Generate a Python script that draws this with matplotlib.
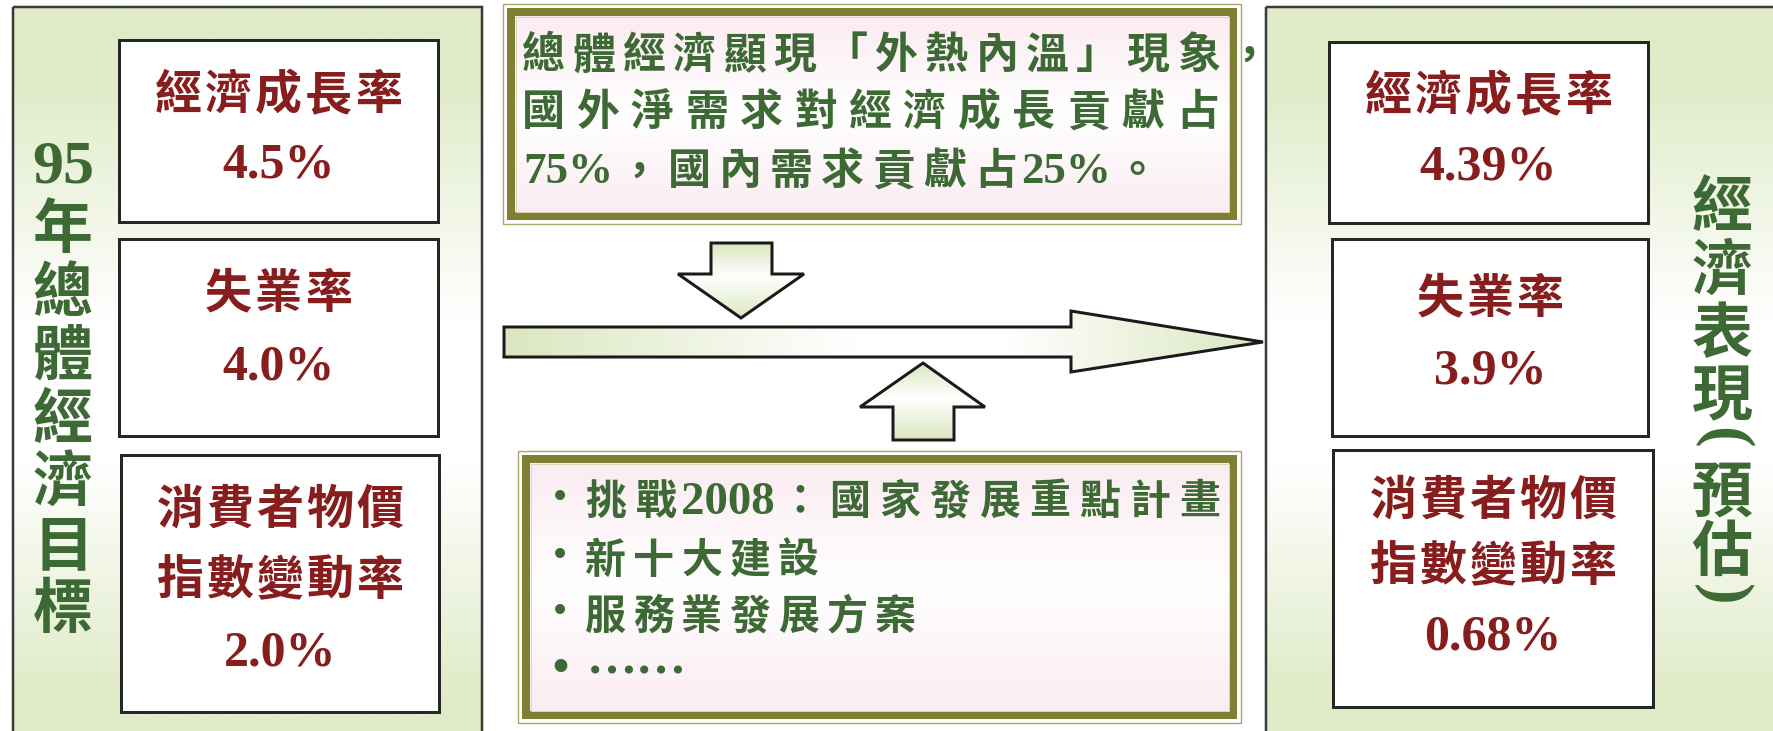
import re
import matplotlib
matplotlib.use('Agg')
import matplotlib.pyplot as plt
import numpy as np
from matplotlib.colors import LinearSegmentedColormap
from matplotlib.patches import Polygon, Rectangle

# ---- content ----
left_title = ['95', '年', '總', '體', '經', '濟', '目', '標']
right_title = ['經', '濟', '表', '現', '(', '預', '估', ')']
indicator_names = ['經濟成長率', '失業率', '消費者物價\n指數變動率']
target_values = ['4.5%', '4.0%', '2.0%']
forecast_values = ['4.39%', '3.9%', '0.68%']
summary_lines = ['總體經濟顯現「外熱內溫」現象，',
                 '國外淨需求對經濟成長貢獻占',
                 '75%，國內需求貢獻占25%。']
policy_items = ['挑戰2008：國家發展重點計畫', '新十大建設', '服務業發展方案', '……']

# ---- style ----
W, H = 1773, 731
CJK = 'Noto Sans CJK TC'
SERIF = 'Liberation Serif'
GREEN_TXT = '#3d6a34'
RED_TXT = '#871d1d'
PANEL_GREEN = '#e0ebc8'
ARROW_GREEN = '#dbe7c0'
PINK = '#fbecf2'
OLIVE = '#7f7f33'
EDGE = '#262626'


def px(v):
    # pixel size -> points at 100 dpi
    return v * 0.72


fig = plt.figure(figsize=(W / 100, H / 100), dpi=100)
ax = fig.add_axes([0, 0, 1, 1])
ax.set_xlim(0, W)
ax.set_ylim(H, 0)
ax.axis('off')
renderer = fig.canvas.get_renderer()


def gradient_shape(verts, stops, colors, horizontal=False, edgecolor=None,
                   lw=0.0, z=2):
    verts = np.asarray(verts, float)
    x0, x1 = verts[:, 0].min(), verts[:, 0].max()
    y0, y1 = verts[:, 1].min(), verts[:, 1].max()
    cmap = LinearSegmentedColormap.from_list('', list(zip(stops, colors)))
    ramp = np.linspace(0, 1, 256)
    arr = ramp[None, :] if horizontal else ramp[:, None]
    im = ax.imshow(arr, cmap=cmap, vmin=0, vmax=1, extent=(x0, x1, y1, y0),
                   origin='upper', aspect='auto', interpolation='bilinear',
                   zorder=z)
    clip = Polygon(verts, closed=True, transform=ax.transData,
                   fc='none', ec='none')
    im.set_clip_path(clip)
    if edgecolor is not None:
        ax.add_patch(Polygon(verts, closed=True, fc='none', ec=edgecolor,
                             lw=lw, zorder=z + 0.1, joinstyle='miter'))


def rect(x0, y0, x1, y1):
    return [(x0, y0), (x1, y0), (x1, y1), (x0, y1)]


TOKEN = re.compile(r'[0-9A-Za-z%.]+|.')


def spaced_text(s, x, y, pitch, cjk_px, latin_px, color, align='left', z=6):
    # y is the visual centre of the line
    items = []
    for tok in TOKEN.findall(s):
        if tok.isascii():
            t = ax.text(0, y + 0.338 * latin_px, tok, fontsize=px(latin_px),
                        family=SERIF, weight='bold', color=color,
                        ha='left', va='baseline', zorder=z)
            w = t.get_window_extent(renderer).width
            items.append((t, w, True))
        else:
            t = ax.text(0, y + 0.38 * cjk_px, tok, fontsize=px(cjk_px),
                        family=[CJK, 'DejaVu Sans'], weight='bold',
                        color=color, ha='center', va='baseline', zorder=z)
            items.append((t, pitch, False))
    total = sum(w for _, w, _ in items)
    if align == 'center':
        x = x - total / 2
    for t, w, latin in items:
        t.set_x(x if latin else x + w / 2)
        x += w


def vertical_title(tokens, x, ys, size):
    for tok, y in zip(tokens, ys):
        if tok in '()':
            # brackets turn sideways in vertical writing
            ax.text(x, y, tok, fontsize=px(size + 4), family=SERIF,
                    weight='bold', color=GREEN_TXT, rotation=-90,
                    ha='center', va='center', zorder=6)
        else:
            spaced_text(tok, x, y, 63, size, 62, GREEN_TXT, align='center')


# ---- side panels ----
for x0, x1 in [(13, 482), (1266, 1790)]:
    gradient_shape(rect(x0, 7, x1, 745),
                   [0, 0.1, 0.42, 0.62, 0.93, 1],
                   [PANEL_GREEN, PANEL_GREEN, 'white', 'white', PANEL_GREEN,
                    PANEL_GREEN],
                   edgecolor='#3a3a3a', lw=px(2.5), z=1)

vertical_title(left_title, 63, [162, 225, 289, 352, 415, 478, 542, 605], 60)
vertical_title(right_title, 1722, [203, 267, 330, 392, 438, 489, 548, 595], 61)

# ---- indicator boxes ----
left_boxes = [(119, 40, 438, 222), (119, 239, 438, 436), (121, 455, 439, 712)]
right_boxes = [(1329, 42, 1648, 223), (1332, 239, 1648, 436),
               (1333, 450, 1653, 707)]
left_label_y = [[91], [290], [506, 577]]
right_label_y = [[92], [295], [497, 563]]
left_value_base = [178, 380, 665]
right_value_base = [180, 383, 649]

for boxes, label_ys, bases, values in [
        (left_boxes, left_label_y, left_value_base, target_values),
        (right_boxes, right_label_y, right_value_base, forecast_values)]:
    for (x0, y0, x1, y1), name, ys, base, val in zip(boxes, indicator_names,
                                                       label_ys, bases, values):
        ax.add_patch(Rectangle((x0, y0), x1 - x0, y1 - y0, fc='white',
                               ec=EDGE, lw=px(3), zorder=3))
        cx = (x0 + x1) / 2
        for line, y in zip(name.split('\n'), ys):
            spaced_text(line, cx, y, 50, 47, 49, RED_TXT, align='center')
        ax.text(cx, base, val, fontsize=px(50), family=SERIF, weight='bold',
                color=RED_TXT, ha='center', va='baseline', zorder=6)


# ---- framed text boxes ----
def framed_box(x0, y0, x1, y1):
    ax.add_patch(Rectangle((x0, y0), x1 - x0, y1 - y0, fc='white',
                           ec='#aaa66c', lw=px(1.4), zorder=3))
    gradient_shape(rect(x0 + 12, y0 + 12, x1 - 12, y1 - 12),
                   [0, 0.5, 1], [PINK, 'white', PINK], z=3.2)
    ax.add_patch(Rectangle((x0 + 8, y0 + 8), x1 - x0 - 16, y1 - y0 - 16,
                           fc='none', ec=OLIVE, lw=px(8), zorder=3.4,
                           joinstyle='miter'))
    ax.add_patch(Rectangle((x0 + 12.5, y0 + 12.5), x1 - x0 - 25,
                           y1 - y0 - 25, fc='none', ec='#d9d7b2',
                           lw=px(1), zorder=3.5))


framed_box(503, 4, 1241, 224)
summary_x = [518, 516, 523]
summary_y = [52, 109, 168]
summary_pitch = [50.4, 54.5, 51]
for line, x, y, p in zip(summary_lines, summary_x, summary_y, summary_pitch):
    spaced_text(line, x, y, p, 43, 45, GREEN_TXT)

framed_box(518, 451, 1241, 723)
policy_y = [498, 557, 613, 669]
policy_pitch = [50, 48.3, 48.3]
for i, (item, y) in enumerate(zip(policy_items, policy_y)):
    ax.text(560, y, '•', fontsize=px(44 if i == 3 else 34),
            family='DejaVu Sans', color=GREEN_TXT, ha='center', va='center',
            zorder=6)
    if set(item) == {'…'}:
        # ellipsis dots sit on the middle of the line
        ax.text(587, y + 4, item, fontsize=px(50), family=SERIF,
                weight='bold', color=GREEN_TXT, ha='left', va='baseline',
                zorder=6)
    else:
        spaced_text(item, 581, y, policy_pitch[i], 41, 47, GREEN_TXT)

# ---- arrows ----
gradient_shape([(711, 243), (772, 243), (772, 274), (804, 274), (741, 318),
                (678, 274), (711, 274)],
               [0, 0.45, 1], [ARROW_GREEN, 'white', ARROW_GREEN],
               edgecolor='#1a1a1a', lw=px(3), z=3)
gradient_shape([(923, 363), (985, 407), (954, 407), (954, 440), (893, 440),
                (893, 407), (860, 407)],
               [0, 0.45, 1], [ARROW_GREEN, 'white', ARROW_GREEN],
               edgecolor='#1a1a1a', lw=px(3), z=3)
gradient_shape([(504, 327), (1071, 327), (1071, 311), (1263, 342),
                (1071, 372), (1071, 357), (504, 357)],
               [0, 0.46, 0.66, 1], [ARROW_GREEN, 'white', 'white', ARROW_GREEN],
               horizontal=True, edgecolor='#1a1a1a', lw=px(3), z=3)

ax.set_xlim(0, W)
ax.set_ylim(H, 0)
fig.savefig('out.png', dpi=100, facecolor='white')
